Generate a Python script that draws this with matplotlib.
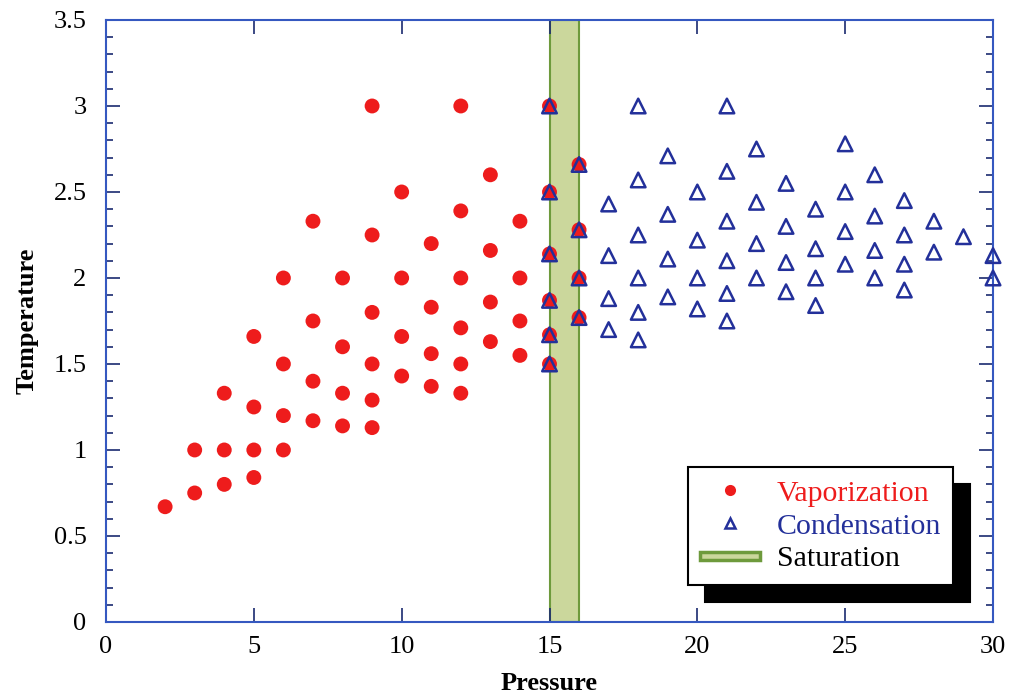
import matplotlib
matplotlib.use("Agg")
import matplotlib.pyplot as plt
from matplotlib.lines import Line2D
from matplotlib.patches import Patch, Rectangle
from matplotlib.legend_handler import HandlerPatch
from matplotlib.ticker import MultipleLocator, FormatStrFormatter

plt.rcParams["font.family"] = ["Liberation Serif", "DejaVu Serif"]

# vaporization points (pressure, temperature)
vap_p = [2, 3, 3, 4, 4, 4, 5, 5, 5, 5, 6, 6, 6, 6, 7, 7, 7, 7,
         8, 8, 8, 8, 9, 9, 9, 9, 9, 9, 10, 10, 10, 10, 11, 11, 11, 11,
         12, 12, 12, 12, 12, 12, 13, 13, 13, 13, 14, 14, 14, 14,
         15, 15, 15, 15, 15, 15, 16, 16, 16, 16]
vap_t = [0.67, 0.75, 1.0, 0.8, 1.0, 1.33, 0.84, 1.0, 1.25, 1.66, 1.0, 1.2, 1.5, 2.0, 1.17, 1.4, 1.75, 2.33,
         1.14, 1.33, 1.6, 2.0, 1.13, 1.29, 1.5, 1.8, 2.25, 3.0, 1.43, 1.66, 2.0, 2.5, 1.37, 1.56, 1.83, 2.2,
         1.33, 1.5, 1.71, 2.0, 2.39, 3.0, 1.63, 1.86, 2.16, 2.6, 1.55, 1.75, 2.0, 2.33,
         1.5, 1.67, 1.87, 2.14, 2.5, 3.0, 1.77, 2.0, 2.28, 2.66]

# condensation points (pressure, temperature)
con_p = [15, 15, 15, 15, 15, 15, 16, 16, 16, 16,
         17, 17, 17, 17, 18, 18, 18, 18, 18, 18, 19, 19, 19, 19,
         20, 20, 20, 20, 21, 21, 21, 21, 21, 21, 22, 22, 22, 22,
         23, 23, 23, 23, 24, 24, 24, 24, 25, 25, 25, 25, 26, 26, 26, 26,
         27, 27, 27, 27, 28, 28, 29, 30, 30]
con_t = [1.5, 1.67, 1.87, 2.14, 2.5, 3.0, 1.77, 2.0, 2.28, 2.66,
         1.7, 1.88, 2.13, 2.43, 1.64, 1.8, 2.0, 2.25, 2.57, 3.0, 1.89, 2.11, 2.37, 2.71,
         1.82, 2.0, 2.22, 2.5, 1.75, 1.91, 2.1, 2.33, 2.62, 3.0, 2.0, 2.2, 2.44, 2.75,
         1.92, 2.09, 2.3, 2.55, 1.84, 2.0, 2.17, 2.4, 2.08, 2.27, 2.5, 2.78, 2.0, 2.16, 2.36, 2.6,
         1.93, 2.08, 2.25, 2.45, 2.15, 2.33, 2.24, 2.0, 2.13]

sat_band = (15, 16)

RED = "#ee1c1c"
BLUE = "#23309a"
SPINE = "#3558c0"
BAND_FILL = "#cbd79c"
BAND_EDGE = "#6e9a3c"


def thin_band(legend, orig_handle, xdescent, ydescent, width, height, fontsize):
    # narrow strip, looks like two green lines with the band colour between
    h = height * 0.4
    return Rectangle((-xdescent, -ydescent + (height - h) / 2), width, h)


fig = plt.figure(figsize=(10.23, 6.99), dpi=100)
ax = fig.add_axes([0.1036, 0.1102, 0.8671, 0.8612])

ax.axvspan(*sat_band, facecolor=BAND_FILL, edgecolor=BAND_EDGE, lw=1.5, zorder=1)
ax.scatter(vap_p, vap_t, s=115, color=RED, edgecolors="none", zorder=3)
ax.scatter(con_p, con_t, s=110, marker="^", facecolors="none", edgecolors=BLUE,
           linewidths=1.8, zorder=4, clip_on=False)

ax.set_xlim(0, 30)
ax.set_ylim(0, 3.5)
ax.xaxis.set_major_locator(MultipleLocator(5))
ax.yaxis.set_major_locator(MultipleLocator(0.5))
ax.yaxis.set_minor_locator(MultipleLocator(0.1))
ax.yaxis.set_major_formatter(FormatStrFormatter("%g"))
ax.tick_params(which="both", direction="in", top=True, right=True, colors="#1a2a70",
               labelcolor="black", labelsize=19)
ax.tick_params(which="major", length=10, width=1.2)
ax.tick_params(which="minor", length=5, width=1.2)
ax.tick_params(axis="y", pad=14)
ax.tick_params(axis="x", pad=10)
for sp in ax.spines.values():
    sp.set_color(SPINE)
    sp.set_linewidth(1.5)

ax.set_xlabel("Pressure", fontsize=19, fontweight="bold", labelpad=10)
ax.set_ylabel("Temperature", fontsize=19, fontweight="bold", labelpad=11)

handles = [
    Line2D([], [], marker="o", ls="none", color=RED, markersize=8, markeredgecolor="none"),
    Line2D([], [], marker="^", ls="none", markerfacecolor="none", markeredgecolor=BLUE,
           markersize=7, markeredgewidth=1.8),
    Patch(facecolor=BAND_FILL, edgecolor=BAND_EDGE, lw=2.5),
]
leg = ax.legend(handles, ["Vaporization", "Condensation", "Saturation"],
                handler_map={Patch: HandlerPatch(patch_func=thin_band)},
                loc="lower left", bbox_to_anchor=(0.656, 0.0615), borderaxespad=0,
                fontsize=21.5, fancybox=False, framealpha=1, edgecolor="black",
                borderpad=0.42, labelspacing=0.2, handlelength=2.0, handletextpad=0.55,
                shadow={"ox": 12, "oy": -12, "color": "black", "alpha": 1})
leg.get_frame().set_linewidth(1.5)
leg.set_zorder(10)
for txt, c in zip(leg.get_texts(), [RED, BLUE, "black"]):
    txt.set_color(c)

fig.savefig("out.png", dpi=100)
